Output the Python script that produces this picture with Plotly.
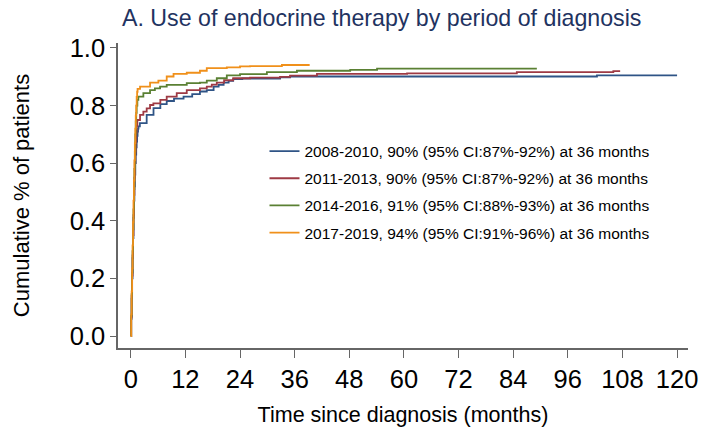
import plotly.graph_objects as go

# ---- data (months since diagnosis, cumulative proportion) ----
t_0810 = [0, 0.1, 0.2, 0.3, 0.4, 0.5, 0.6, 0.7, 0.8, 0.9, 1.0, 1.1, 1.2, 1.3, 1.4, 1.5, 1.6, 1.7, 2.0, 3.5, 5.0, 6.5, 7.9, 9.5, 11.6, 13.5, 15.2, 16.7, 18.2, 19.3, 20.4, 21.5, 22.5, 24.5, 26.2, 32.8, 35.0, 102.4, 120.0]
v_0810 = [0, 0.06, 0.13, 0.20, 0.27, 0.34, 0.41, 0.47, 0.52, 0.56, 0.60, 0.63, 0.655, 0.675, 0.695, 0.71, 0.72, 0.728, 0.739, 0.768, 0.791, 0.805, 0.816, 0.824, 0.831, 0.840, 0.849, 0.854, 0.866, 0.872, 0.880, 0.886, 0.892, 0.894, 0.894, 0.898, 0.901, 0.905, 0.905]

t_1113 = [0, 0.1, 0.2, 0.3, 0.4, 0.5, 0.6, 0.7, 0.8, 0.9, 1.0, 1.1, 1.2, 1.3, 1.45, 2.04, 2.77, 3.5, 4.24, 4.97, 6.5, 7.9, 10.1, 12.3, 15.2, 16.7, 17.8, 18.9, 20.5, 22.5, 26.2, 32.8, 35.0, 40.9, 60.7, 84.8, 106.0, 107.5]
v_1113 = [0, 0.065, 0.14, 0.21, 0.28, 0.35, 0.42, 0.49, 0.55, 0.60, 0.64, 0.675, 0.705, 0.73, 0.750, 0.768, 0.779, 0.790, 0.802, 0.808, 0.820, 0.831, 0.843, 0.854, 0.860, 0.866, 0.873, 0.880, 0.888, 0.895, 0.897, 0.900, 0.904, 0.910, 0.912, 0.916, 0.920, 0.920]

t_1416 = [0, 0.1, 0.2, 0.3, 0.4, 0.5, 0.6, 0.7, 0.8, 0.9, 1.0, 1.1, 1.2, 1.3, 1.45, 1.67, 2.77, 4.24, 5.3, 6.44, 7.9, 12.3, 15.2, 16.7, 18.9, 21.1, 24.0, 29.9, 36.5, 48.2, 54.1, 89.2]
v_1416 = [0, 0.07, 0.145, 0.22, 0.295, 0.37, 0.44, 0.51, 0.58, 0.64, 0.70, 0.745, 0.775, 0.80, 0.82, 0.831, 0.843, 0.854, 0.860, 0.866, 0.872, 0.878, 0.880, 0.887, 0.895, 0.905, 0.909, 0.916, 0.921, 0.924, 0.928, 0.928]

t_1719 = [0, 0.1, 0.2, 0.3, 0.4, 0.5, 0.6, 0.7, 0.8, 0.9, 1.0, 1.1, 1.2, 1.3, 1.4, 1.5, 2.04, 4.24, 6.07, 7.9, 9.4, 12.3, 15.2, 16.7, 21.1, 24.0, 26.2, 33.2, 39.3]
v_1719 = [0, 0.075, 0.155, 0.235, 0.315, 0.395, 0.47, 0.54, 0.61, 0.67, 0.72, 0.765, 0.80, 0.83, 0.848, 0.858, 0.866, 0.880, 0.887, 0.901, 0.910, 0.914, 0.921, 0.930, 0.933, 0.936, 0.937, 0.941, 0.941]

names = [
    "2008-2010, 90% (95% CI:87%-92%) at 36 months",
    "2011-2013, 90% (95% CI:87%-92%) at 36 months",
    "2014-2016, 91% (95% CI:88%-93%) at 36 months",
    "2017-2019, 94% (95% CI:91%-96%) at 36 months",
]
colors = ["#2f5486", "#9e3a44", "#5a8033", "#f0901a"]
series = [(t_0810, v_0810), (t_1113, v_1113), (t_1416, v_1416), (t_1719, v_1719)]

x_ticks = list(range(0, 121, 12))
y_ticks = [0.0, 0.2, 0.4, 0.6, 0.8, 1.0]

FONT = "Arial, Liberation Sans, sans-serif"

fig = go.Figure()
for i, ((t, v), name, col) in enumerate(zip(series, names, colors)):
    fig.add_trace(go.Scatter(
        x=t, y=v, mode="lines", name=name, legendgroup=f"g{i}",
        line=dict(color=col, width=1.8, shape="hv"),
    ))

fig.update_layout(
    width=704, height=437,
    margin=dict(l=118, r=16, t=43, b=88.5, autoexpand=False),
    paper_bgcolor="white", plot_bgcolor="white",
    font=dict(family=FONT, color="black"),
    title=dict(text="A. Use of endocrine therapy by period of diagnosis",
               x=122 / 704, xanchor="left", y=1 - 18 / 437, yanchor="middle",
               font=dict(size=23.2, color="#1f3361", family=FONT)),
    showlegend=True,
    legend=dict(x=0.257, y=0.70, xanchor="left", yanchor="top",
                font=dict(size=15.5, family=FONT, color="black"),
                bgcolor="rgba(0,0,0,0)", tracegroupgap=4, itemwidth=30),
    xaxis=dict(range=[-2.8, 122.4], tickvals=x_ticks, ticktext=[str(v) for v in x_ticks],
               showgrid=False, zeroline=False, showline=True, linecolor="#666666", linewidth=1.5,
               ticks="outside", ticklen=8, tickcolor="#666666", tickwidth=1.2,
               tickfont=dict(size=25.5, family=FONT, color="black"),
               title=dict(text="Time since diagnosis (months)", font=dict(size=21.5, family=FONT), standoff=15)),
    yaxis=dict(range=[-0.0416, 1.0173], tickvals=y_ticks, tickformat=".1f",
               showgrid=False, zeroline=False, showline=True, linecolor="#666666", linewidth=1.5,
               ticks="outside", ticklen=6, tickcolor="#666666", tickwidth=1.2,
               tickfont=dict(size=25.5, family=FONT, color="black"),
               title=dict(text="Cumulative % of patients", font=dict(size=22, family=FONT), standoff=34)),
)

fig.write_html("out.html", config={"displayModeBar": False},
               post_script="document.body.style.margin='0';")
